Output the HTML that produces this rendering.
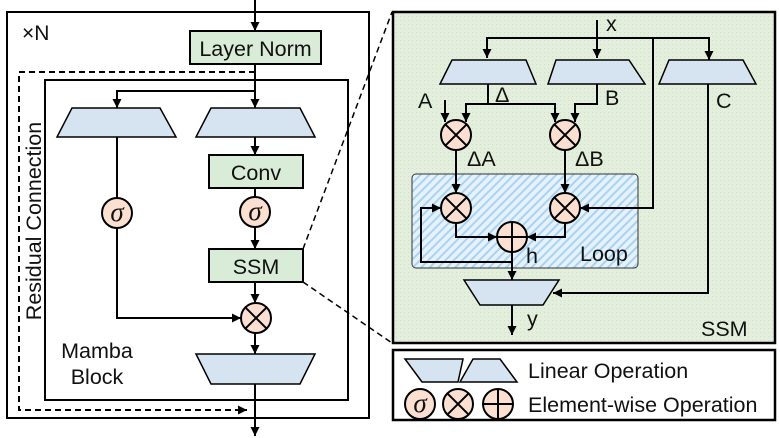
<!DOCTYPE html>
<html><head><meta charset="utf-8"><style>
html,body{margin:0;padding:0;background:#fff}
svg{display:block}
text{font-family:"Liberation Sans",sans-serif;fill:#111}
</style></head><body>
<svg width="780" height="438" viewBox="0 0 780 438" xmlns="http://www.w3.org/2000/svg">
<defs>
<marker id="a" viewBox="0 0 10 10" refX="10" refY="5" markerWidth="9" markerHeight="9" markerUnits="userSpaceOnUse" orient="auto"><path d="M0,0L10,5L0,10z" fill="#000"/></marker>
<pattern id="dots" width="4" height="4" patternUnits="userSpaceOnUse"><rect width="4" height="4" fill="#e3efdc"/><rect width="1" height="1" fill="#cfe0c6"/></pattern>
<pattern id="hatch" width="6" height="6" patternUnits="userSpaceOnUse" patternTransform="rotate(45)"><rect width="6" height="6" fill="#e6f2fb"/><rect width="2" height="6" fill="#a9d3f0"/></pattern>
<g id="ot"><circle r="15" fill="#fbe0d1" stroke="#000" stroke-width="2"/><path d="M-10.6,-10.6L10.6,10.6M10.6,-10.6L-10.6,10.6" stroke="#000" stroke-width="2"/></g>
<g id="op"><circle r="15" fill="#fbe0d1" stroke="#000" stroke-width="2"/><path d="M-15,0H15M0,-15V15" stroke="#000" stroke-width="2"/></g>
<g id="sg"><circle r="15" fill="#fbe0d1" stroke="#000" stroke-width="2"/><text x="0" y="8" text-anchor="middle" font-size="27" font-style="italic" style="font-family:'Liberation Serif',serif">σ</text></g>
</defs>
<g stroke="#000" stroke-width="2" fill="none">
<rect x="7" y="12" width="362" height="406"/>
<rect x="45" y="80" width="303" height="320"/>
<path d="M255,72H19V410H247" stroke-dasharray="6,4" marker-end="url(#a)"/>
<path d="M255,0V31" marker-end="url(#a)"/>
<path d="M255,64V108" marker-end="url(#a)"/>
<path d="M255,91H117V108" marker-end="url(#a)"/>
<path d="M255,137V155" marker-end="url(#a)"/>
<path d="M255,188V197"/>
<path d="M255,227V249" marker-end="url(#a)"/>
<path d="M255,282V303" marker-end="url(#a)"/>
<path d="M117,137V198M117,228V318H241" marker-end="url(#a)"/>
<path d="M255,333V354" marker-end="url(#a)"/>
<path d="M255,384V436" marker-end="url(#a)"/>
<path d="M303,249L392,12M303,282L392,343" stroke-width="1.5" stroke-dasharray="6,4"/>
</g>
<rect x="190" y="31" width="131" height="33" fill="#d9ecd7" stroke="#000" stroke-width="2"/>
<text x="255.5" y="56" text-anchor="middle" font-size="21.5">Layer Norm</text>
<polygon points="72,108 160,108 176,137 57,137" fill="#d6e4f2" stroke="#000" stroke-width="1.5"/>
<polygon points="211,108 300,108 315,137 196,137" fill="#d6e4f2" stroke="#000" stroke-width="1.5"/>
<rect x="209" y="155" width="94" height="33" fill="#d9ecd7" stroke="#000" stroke-width="2"/>
<text x="256" y="180" text-anchor="middle" font-size="21.5">Conv</text>
<use href="#sg" x="255" y="212"/>
<use href="#sg" x="117" y="213"/>
<rect x="209" y="249" width="94" height="33" fill="#d9ecd7" stroke="#000" stroke-width="2"/>
<text x="256" y="274" text-anchor="middle" font-size="21.5">SSM</text>
<use href="#ot" x="256" y="318"/>
<polygon points="196,354 315,354 300,384 211,384" fill="#d6e4f2" stroke="#000" stroke-width="1.5"/>
<text x="22" y="40" font-size="21">×N</text>
<text x="97" y="358" text-anchor="middle" font-size="21.5">Mamba</text>
<text x="97" y="384" text-anchor="middle" font-size="21.5">Block</text>
<text transform="translate(41,221) rotate(-90)" text-anchor="middle" font-size="21.5">Residual Connection</text>
<rect x="393" y="12" width="382" height="331" fill="url(#dots)" stroke="#000" stroke-width="2.5"/>
<rect x="412" y="174" width="226" height="94" rx="4" fill="url(#hatch)" stroke="#333" stroke-width="1"/>
<g stroke="#000" stroke-width="2" fill="none">
<path d="M597,20V58" marker-end="url(#a)"/>
<path d="M653,38H487V58" marker-end="url(#a)"/>
<path d="M653,38H709V60" marker-end="url(#a)"/>
<path d="M653,38V208H580" marker-end="url(#a)"/>
<path d="M488,84V104H466V122" marker-end="url(#a)"/>
<path d="M488,104H555V122" marker-end="url(#a)"/>
<path d="M597,84V104H575V122" marker-end="url(#a)"/>
<path d="M445,100V122" marker-end="url(#a)"/>
<path d="M456,150V193" marker-end="url(#a)"/>
<path d="M565,150V193" marker-end="url(#a)"/>
<path d="M456,223V237H497" marker-end="url(#a)"/>
<path d="M565,223V237H527" marker-end="url(#a)"/>
<path d="M512,252V280" marker-end="url(#a)"/>
<path d="M512,262H421V208H441" marker-end="url(#a)"/>
<path d="M708,84V293H553" marker-end="url(#a)"/>
<path d="M512,305V335" marker-end="url(#a)"/>
</g>
<polygon points="452,60 526,60 536,84 440,84" fill="#d6e4f2" stroke="#000" stroke-width="1.5"/>
<polygon points="556,60 629,60 645,84 548,84" fill="#d6e4f2" stroke="#000" stroke-width="1.5"/>
<polygon points="669,60 743,60 756,84 659,84" fill="#d6e4f2" stroke="#000" stroke-width="1.5"/>
<use href="#ot" x="456" y="135"/>
<use href="#ot" x="565" y="135"/>
<use href="#ot" x="456" y="208"/>
<use href="#ot" x="565" y="208"/>
<use href="#op" x="512" y="237"/>
<polygon points="464,280 559,280 543,305 480,305" fill="#d6e4f2" stroke="#000" stroke-width="1.5"/>
<text x="606" y="31" font-size="21.5">x</text>
<text x="418" y="108" font-size="21.5">A</text>
<text x="495" y="102" font-size="21.5">Δ</text>
<text x="605" y="105" font-size="21.5">B</text>
<text x="716" y="108" font-size="21.5">C</text>
<text x="467" y="166" font-size="21.5">ΔA</text>
<text x="575" y="166" font-size="21.5">ΔB</text>
<text x="526" y="263" font-size="21.5">h</text>
<text x="580" y="261" font-size="21.5">Loop</text>
<text x="527" y="326" font-size="21.5">y</text>
<text x="701" y="336" font-size="21.5">SSM</text>
<rect x="393" y="350" width="382" height="70" fill="#fff" stroke="#000" stroke-width="2.5"/>
<polygon points="405,359 463,359 458,382 422,382" fill="#d6e4f2" stroke="#000" stroke-width="1.5"/>
<polygon points="473,359 500,359 517,382 460,382" fill="#d6e4f2" stroke="#000" stroke-width="1.5"/>
<text x="528" y="378" font-size="21.5">Linear Operation</text>
<use href="#sg" x="420" y="404"/>
<use href="#ot" x="458" y="404"/>
<use href="#op" x="498" y="404"/>
<text x="528" y="412" font-size="21.5">Element-wise Operation</text>
</svg>
</body></html>
